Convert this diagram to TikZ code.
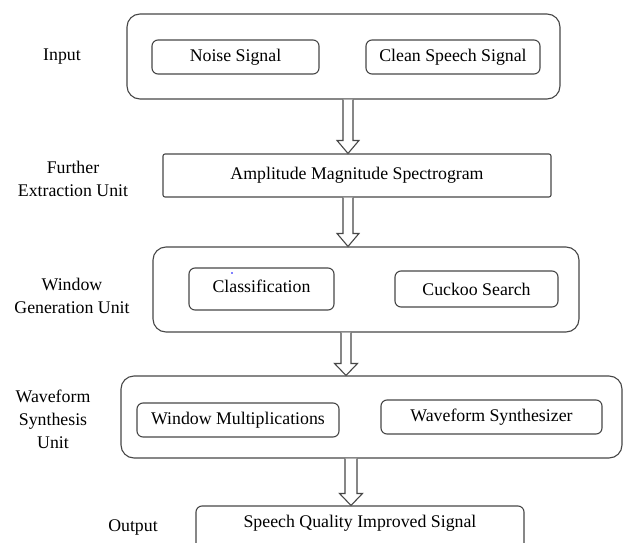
\documentclass[tikz,border=0pt]{standalone}
\usepackage{fontspec}
\setmainfont{Liberation Serif}
\usetikzlibrary{calc}
\tikzset{
  ln/.style={draw=black!72, line width=1.1pt},
  outer/.style={ln, rounded corners=13pt, inner sep=0pt},
  inner/.style={ln, rounded corners=6pt, inner sep=0pt},
  plain/.style={ln, rounded corners=2pt, inner sep=0pt},
  lbl/.style={align=center, inner sep=0pt, font=\fontsize{17.8}{23}\selectfont},
  txt/.style={inner sep=0pt, font=\fontsize{17.8}{23}\selectfont},
  blk/.style={draw=black!72, line width=1.1pt, fill=white, line join=miter}
}
\newcommand\blockarrow[5]{%
  \draw[blk] ($(#1)+(-#4,0)$) -- ($(#2)+(-#4,-#3)$) -- ($(#2)+(-#5,-#3)$) -- (#2)
    -- ($(#2)+(#5,-#3)$) -- ($(#2)+(#4,-#3)$) -- ($(#1)+(#4,0)$);}
\begin{document}
\begin{tikzpicture}[x=1pt,y=-1pt]
\useasboundingbox (0,0) rectangle (642,543);
\clip (0,0) rectangle (642,543);
\fill[white] (0,0) rectangle (642,543);

% Input
\node[outer, minimum width=433, minimum height=85] (inp) at (343.5,56.5) {};
\node[inner, minimum width=167, minimum height=34, txt] (noise) at (235.5,57) {Noise Signal};
\node[inner, minimum width=174, minimum height=34, txt] (clean) at (453,57) {Clean Speech Signal};

% Amplitude
\node[plain, minimum width=388, minimum height=43, txt] (amp) at (357,175.5) {Amplitude Magnitude Spectrogram};

% Window generation
\node[outer, minimum width=426, minimum height=85] (wg) at (366,289.5) {};
\node[inner, minimum width=145, minimum height=42] (cls) at (261.5,289) {};
\node[txt] (clst) at (261.5,286) {Classification};
\node[inner, minimum width=163, minimum height=36, txt] (cuck) at (476.5,289) {Cuckoo Search};
\fill[blue] (232,273) circle (0.9);

% Waveform synthesis
\node[outer, minimum width=501, minimum height=82] (ws) at (371.5,417) {};
\node[inner, minimum width=202, minimum height=34, txt] (wm) at (238,420) {Window Multiplications};
\node[inner, minimum width=221, minimum height=34, txt] (wsyn) at (491.5,417) {Waveform Synthesizer};

% Output
\node[inner, minimum width=328, minimum height=70] (out) at (360,541) {};
\node[txt] (outt) at (360,523) {Speech Quality Improved Signal};

% Left labels
\node[lbl] (l1) at (62,57) {Input};
\node[lbl] (l2) at (73,178.5) {Further\\Extraction Unit};
\node[lbl] (l3) at (72,296) {Window\\Generation Unit};
\node[lbl] (l4) at (53,419) {Waveform\\Synthesis\\Unit};
\node[lbl] (l5) at (133,527) {Output};

% Block arrows
\path ($(inp.south)+(4.5,0)$) coordinate (a1t);
\path ($(amp.north)+(-9,0)$) coordinate (a1b);
\path ($(amp.south)+(-9,0)$) coordinate (a2t);
\path ($(wg.north)+(-18,0)$) coordinate (a2b);
\path ($(wg.south)+(-20,0)$) coordinate (a3t);
\path ($(ws.north)+(-25.5,0)$) coordinate (a3b);
\path ($(ws.south)+(-20.5,0)$) coordinate (a4t);
\path ($(out.north)+(-9,0)$) coordinate (a4b);
\blockarrow{a1t}{a1b}{13}{5}{11}
\blockarrow{a2t}{a2b}{13}{5}{11}
\blockarrow{a3t}{a3b}{12}{5}{11.5}
\blockarrow{a4t}{a4b}{12}{6}{11.5}
\end{tikzpicture}
\end{document}
